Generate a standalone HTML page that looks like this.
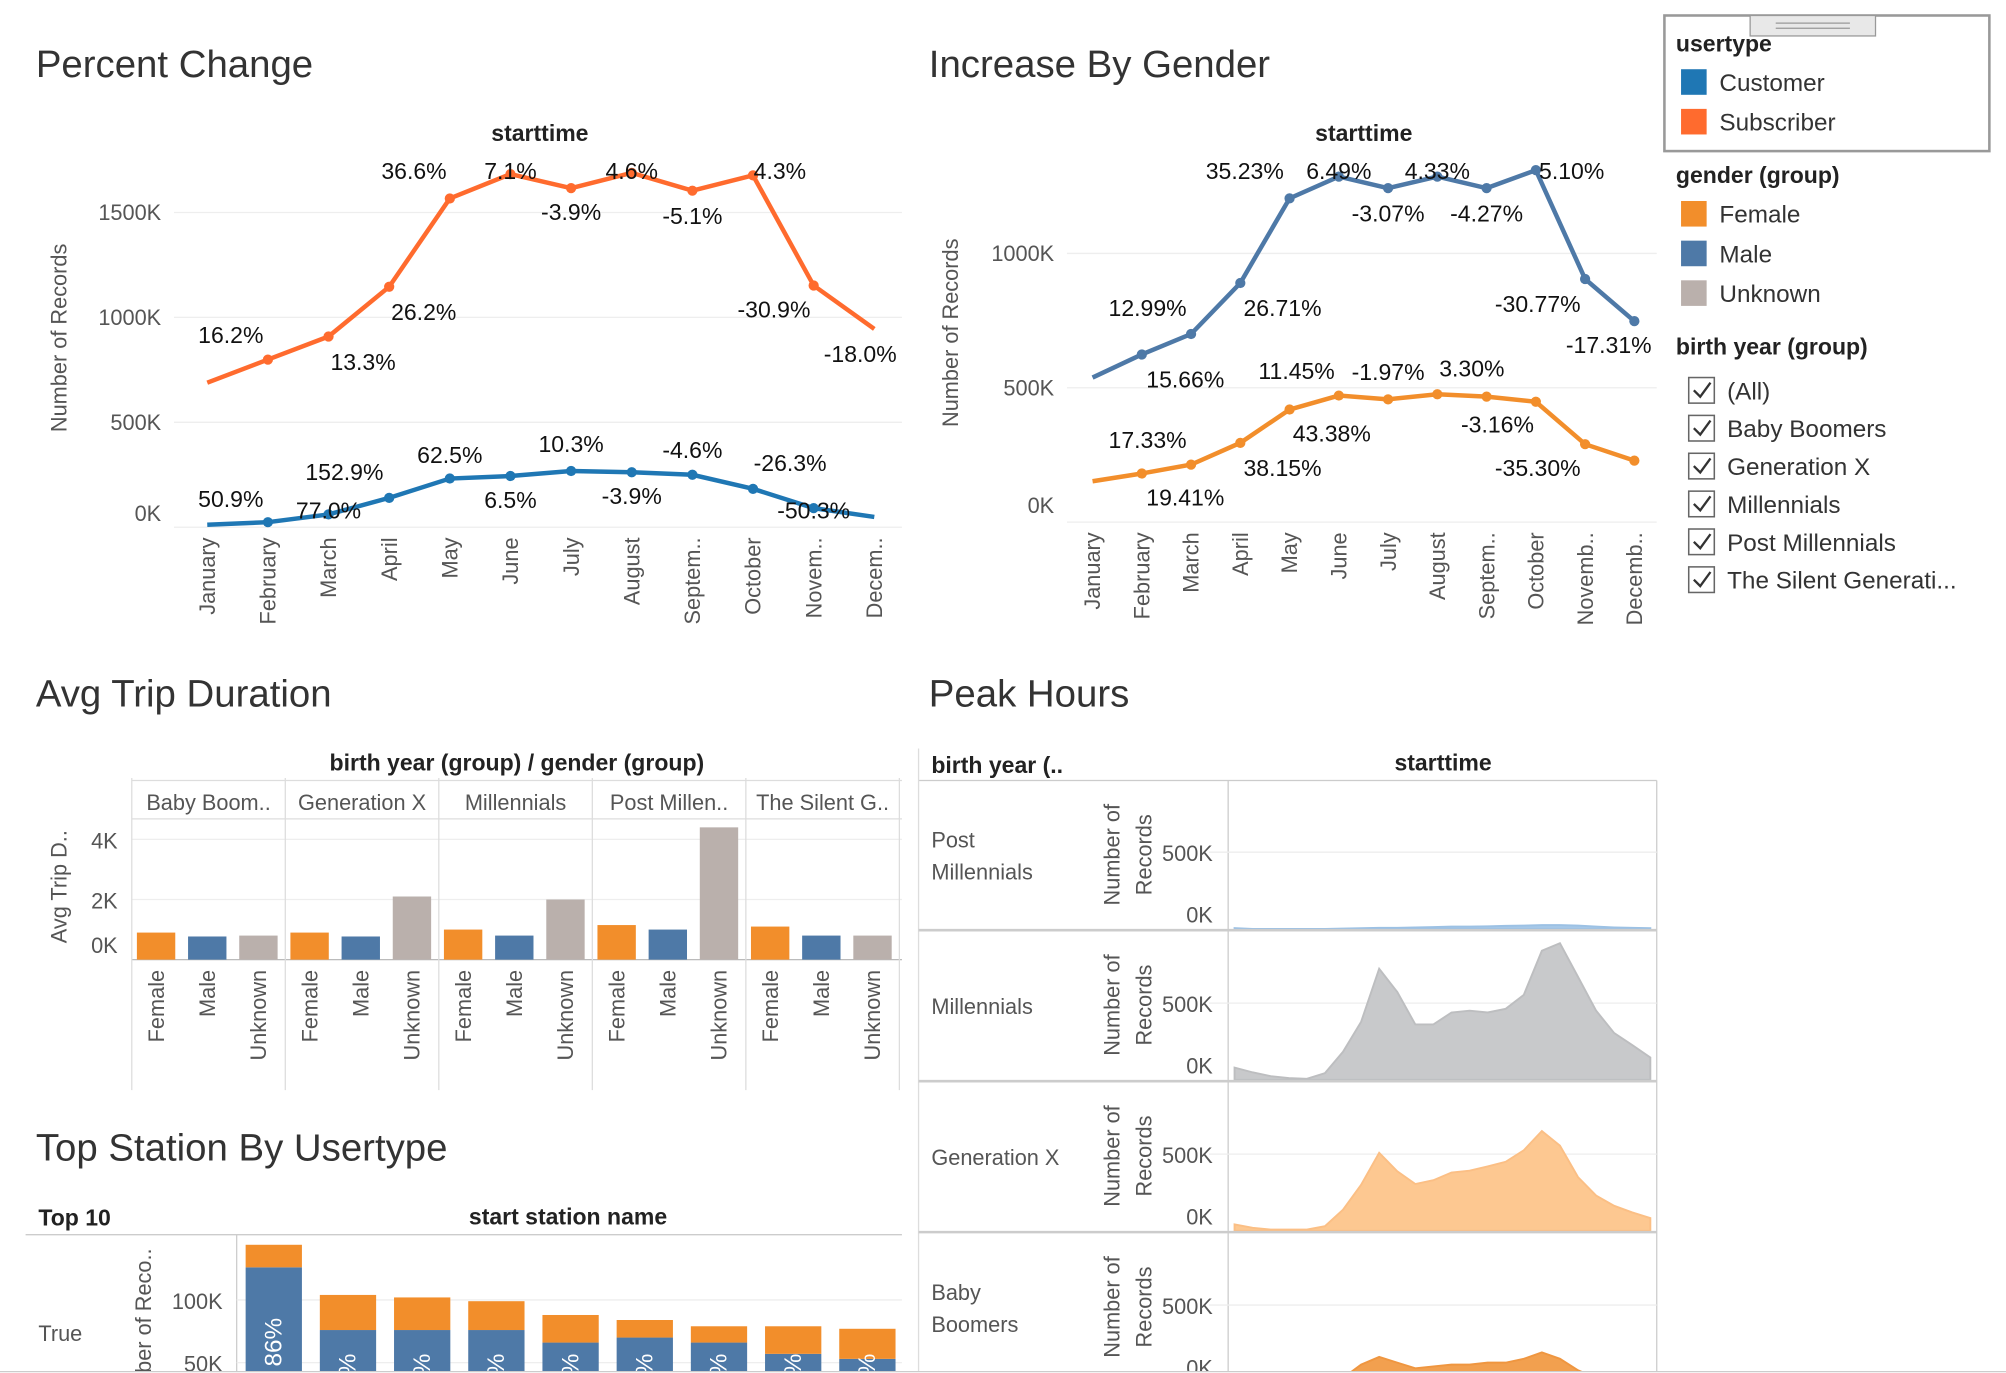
<!DOCTYPE html>
<html><head><meta charset="utf-8"><style>
html,body{margin:0;padding:0;background:#fff;}
svg{display:block;font-family:"Liberation Sans",sans-serif;}
.t{font-size:30px;fill:#333;}
.ax{font-size:17px;fill:#555;}
.hd{font-size:18px;fill:#222;font-weight:bold;}
.lb{font-size:18px;fill:#111;}
.lg{font-size:19px;fill:#333;}
</style></head><body>
<svg id="root" width="2006" height="1373" viewBox="0 0 1568 1073" xmlns="http://www.w3.org/2000/svg">
<rect x="0" y="0" width="1568" height="1073" fill="#fff"/>
<!-- titles -->
<text class="t" x="28" y="60">Percent Change</text>
<text class="t" x="726" y="60">Increase By Gender</text>
<text class="t" x="28" y="552">Avg Trip Duration</text>
<text class="t" x="726" y="552">Peak Hours</text>
<text class="t" x="28" y="907">Top Station By Usertype</text>

<text class="hd" x="422" y="110" text-anchor="middle">starttime</text>
<text class="hd" x="1066" y="110" text-anchor="middle">starttime</text>
<text class="ax" transform="translate(52,264) rotate(-90)" text-anchor="middle">Number of Records</text>
<text class="ax" transform="translate(749,260) rotate(-90)" text-anchor="middle">Number of Records</text>

<!-- legend -->
<g>
<rect x="1301" y="12" width="254" height="106" fill="#fff" stroke="#999" stroke-width="2"/>
<rect x="1368" y="12" width="98" height="16" fill="#e8e8e8" stroke="#999"/>
<line x1="1388" y1="18" x2="1446" y2="18" stroke="#999"/><line x1="1388" y1="22" x2="1446" y2="22" stroke="#999"/>
<text class="hd" x="1310" y="40">usertype</text>
<rect x="1314" y="54" width="20" height="20" fill="#1f77b4"/>
<text class="lg" x="1344" y="71">Customer</text>
<rect x="1314" y="85" width="20" height="20" fill="#ff6b2e"/>
<text class="lg" x="1344" y="102">Subscriber</text>
<text class="hd" x="1310" y="143">gender (group)</text>
<rect x="1314" y="157" width="20" height="20" fill="#f28e2b"/>
<text class="lg" x="1344" y="174">Female</text>
<rect x="1314" y="188" width="20" height="20" fill="#4e79a7"/>
<text class="lg" x="1344" y="205">Male</text>
<rect x="1314" y="219" width="20" height="20" fill="#bab0ac"/>
<text class="lg" x="1344" y="236">Unknown</text>
<text class="hd" x="1310" y="277">birth year (group)</text>
</g>
<g id="filters"></g>

<!-- avg trip static -->
<text class="hd" x="404" y="602" text-anchor="middle">birth year (group)  /  gender (group)</text>
<text class="ax" transform="translate(52,693) rotate(-90)" text-anchor="middle">Avg Trip D..</text>

<!-- peak hours static -->
<text class="hd" x="728" y="604">birth year (..</text>
<text class="hd" x="1128" y="602" text-anchor="middle">starttime</text>

<!-- top station static -->
<text class="hd" x="30" y="958">Top 10</text>
<text class="hd" x="444" y="957" text-anchor="middle">start station name</text>
<line x1="20" y1="965" x2="705" y2="965" stroke="#ccc"/>
<line x1="185" y1="965" x2="185" y2="1073" stroke="#ccc"/>
<text class="ax" x="30" y="1048" font-size="19">True</text>
<text class="ax" transform="translate(118,1073) rotate(-90)">ber of Reco..</text>

<g id="dyn"></g>
</svg>
<script>
// ---------- data ----------
const months = ["January","February","March","April","May","June","July","August","Septem..","October","Novem..","Decem.."];
const subscriberK = [689,799,909,1146,1567,1683,1616,1689,1604,1677,1152,945];
const customerK = [12,24,61,140,232,244,268,262,250,183,91,49];
const subscriberLabels = ["","16.2%","13.3%","26.2%","36.6%","7.1%","-3.9%","4.6%","-5.1%","4.3%","-30.9%","-18.0%"];
const customerLabels = ["","50.9%","77.0%","152.9%","62.5%","6.5%","10.3%","-3.9%","-4.6%","-26.3%","-50.3%",""];
const pctTicks = [0,500,1000,1500];

const genderMonths = ["January","February","March","April","May","June","July","August","Septem..","October","Novemb..","Decemb.."];
const maleK = [538,624,700,890,1205,1286,1243,1286,1243,1310,905,748];
const femaleK = [152,181,214,295,419,471,457,476,467,448,290,229];
const maleLabels = ["","15.66%","12.99%","26.71%","35.23%","6.49%","-3.07%","4.33%","-4.27%","5.10%","-30.77%","-17.31%"];
const femaleLabels = ["","19.41%","17.33%","38.15%","43.38%","11.45%","-1.97%","3.30%","","-3.16%","-35.30%",""];
const genderTicks = [0,500,1000];

const generations = ["Baby Boom..","Generation X","Millennials","Post Millen..","The Silent G.."];
const genders = ["Female","Male","Unknown"];
const avgTripK = [[0.9,0.77,0.8],[0.9,0.77,2.1],[1.0,0.8,2.0],[1.15,1.0,4.4],[1.1,0.8,0.8]];
const tripTicks = [0,2,4];

const stationCustomerK = [126,76,76,76,66,70,66,57,53];
const stationSubscriberK = [18,28,26,23,22,14,13,22,24];
const stationPctLabels = ["86%","%","%","%","%","%","%","%","%"];
const stationTicks = [50,100];

const peakRows = ["Post Millennials","Millennials","Generation X","Baby Boomers"];
const postMillK = [5,0,0,0,0,0,2,5,7,7,10,12,15,15,17,20,22,25,25,22,15,10,7,5];
const millK = [80,49,24,12,7,44,183,378,724,573,361,361,439,451,439,463,554,841,890,671,451,305,227,146];
const genXK = [42,20,8,8,8,30,138,300,508,388,305,330,380,392,420,450,525,650,555,350,230,163,120,83];
const boomerK = [5,5,5,5,5,5,25,112,162,125,88,100,112,112,125,125,150,192,150,75,25,12,8,5];
const filterItems = ["(All)","Baby Boomers","Generation X","Millennials","Post Millennials","The Silent Generati..."];

// ---------- helpers ----------
const NS="http://www.w3.org/2000/svg";
const dyn=document.getElementById('dyn');
function mk(tag,attrs,parent,txt){const e=document.createElementNS(NS,tag);for(const k in attrs)e.setAttribute(k,attrs[k]);if(txt!==undefined)e.textContent=txt;(parent||dyn).appendChild(e);return e;}

// ---------- percent change ----------
(function(){
  const x=i=>162+i*47.4, y=v=>412-v*0.164;
  pctTicks.forEach(t=>{
    const l=mk('line',{x1:136,x2:705,y1:y(t),y2:y(t),stroke:'#eee'});
    
    
    const tx=mk('text',{x:126,y:Math.min(y(t)+6,407),'text-anchor':'end',class:'ax','font-size':'18'},dyn,t+'K');
    
    
  });
  months.forEach((m,i)=>{
    const tx=mk('text',{transform:`translate(${x(i)+6},420) rotate(-90)`,'text-anchor':'end',class:'ax','font-size':'18'},dyn,m);
    
    
  });
  const sdx=[0,-29,27,27,-28,0,0,0,0,21,-31,-11], sdy=[0,-19,20,20,-21,-2,19,-1,20,-3,19,20];
  const cdx=[0,-29,0,-35,0,0,0,0,0,29,0,0], cdy=[0,-18,-3,-20,-18,19,-21,19,-19,-20,2,0];
  [[subscriberK,'#ff6b2e','subscriber',subscriberLabels,sdx,sdy],[customerK,'#1f77b4','customer',customerLabels,cdx,cdy]].forEach(([d,c,n,labs,dx,dy])=>{
    const p=mk('polyline',{points:d.map((v,i)=>x(i)+','+y(v)).join(' '),fill:'none',stroke:c,'stroke-width':3.5});
    
    
    d.forEach((v,i)=>{
      if(i>0&&i<11){const ci=mk('circle',{cx:x(i),cy:y(v),r:4,fill:c});
      
      }
      if(labs[i]){const t=mk('text',{x:x(i)+dx[i],y:y(v)+dy[i]+6,'text-anchor':'middle',class:'lb'},dyn,labs[i]);
      
      }
    });
  });
})();

// ---------- increase by gender ----------
(function(){
  const x=i=>854+i*38.5, y=v=>408-v*0.21;
  genderTicks.forEach(t=>{
    const l=mk('line',{x1:834,x2:1295,y1:y(t),y2:y(t),stroke:'#eee'});
    
    
    const tx=mk('text',{x:824,y:Math.min(y(t)+6,401),'text-anchor':'end',class:'ax','font-size':'18'},dyn,t+'K');
    
    
  });
  genderMonths.forEach((m,i)=>{
    const tx=mk('text',{transform:`translate(${x(i)+6},416) rotate(-90)`,'text-anchor':'end',class:'ax','font-size':'18'},dyn,m);
    
    
  });
  const mdx=[0,34,-34,33,-35,0,0,0,0,28,-37,-20], mdy=[0,20,-20,20,-21,-4,20,-4,20,1,20,19];
  const fdx=[0,34,-34,33,33,-33,0,27,0,-30,-37,0], fdy=[0,19,-19,20,19,-19,-21,-20,0,18,19,0];
  [[maleK,'#4e79a7','male',maleLabels,mdx,mdy],[femaleK,'#f28e2b','female',femaleLabels,fdx,fdy]].forEach(([d,c,n,labs,dx,dy])=>{
    const p=mk('polyline',{points:d.map((v,i)=>x(i)+','+y(v)).join(' '),fill:'none',stroke:c,'stroke-width':3.5});
    
    
    d.forEach((v,i)=>{
      if(i>0){const ci=mk('circle',{cx:x(i),cy:y(v),r:4,fill:c});
      
      }
      if(labs[i]){const t=mk('text',{x:x(i)+dx[i],y:y(v)+dy[i]+6,'text-anchor':'middle',class:'lb'},dyn,labs[i]);
      
      }
    });
  });
})();

// ---------- filters ----------
(function(){
  const g=document.getElementById('filters');
  filterItems.forEach((f,i)=>{
    const yy=305+i*29.6;
    const b=mk('rect',{x:1320,y:yy-10,width:20,height:20,fill:'#fff',stroke:'#666','stroke-width':1.2},g);
    
    
    mk('path',{d:`M${1324},${yy} l5,5 l8,-11`,fill:'none',stroke:'#333','stroke-width':1.8},g);
    const t=mk('text',{x:1350,y:yy+7,class:'lg'},g,f);
    
    
  });
})();

// ---------- avg trip duration ----------
(function(){
  const y=v=>750-v*23.5, px=g=>103+g*120, bx=(g,k)=>px(g)+4+k*40;
  tripTicks.forEach(t=>{
    const l=mk('line',{x1:103,x2:705,y1:y(t),y2:y(t),stroke:'#eee'});
    
    
    const tx=mk('text',{x:92,y:y(t)+(t===0?-5:7),'text-anchor':'end',class:'ax','font-size':'18'},dyn,t+'K');
    
    
  });
  mk('line',{x1:103,x2:705,y1:610,y2:610,stroke:'#ddd'});
  mk('line',{x1:103,x2:705,y1:640,y2:640,stroke:'#ddd'});
  mk('line',{x1:103,x2:705,y1:750,y2:750,stroke:'#bbb'});
  for(let g=0;g<=5;g++) mk('line',{x1:px(g),x2:px(g),y1:608,y2:852,stroke:'#ddd'});
  generations.forEach((gn,g)=>{
    const t=mk('text',{x:px(g)+60,y:633,'text-anchor':'middle',class:'ax','font-size':'18'},dyn,gn);
    
    
    genders.forEach((gd,k)=>{
      const v=avgTripK[g][k];
      const r=mk('rect',{x:bx(g,k),y:y(v),width:30,height:750-y(v),fill:['#f28e2b','#4e79a7','#bab0ac'][k]});
      
      
      const tx=mk('text',{transform:`translate(${bx(g,k)+21},758) rotate(-90)`,'text-anchor':'end',class:'ax','font-size':'18'},dyn,gd);
      
      
    });
  });
})();

// ---------- peak hours ----------
(function(){
  const rowTop=[610,727,845,963], base=[726,844,962,1080], data=[postMillK,millK,genXK,boomerK];
  const cols=['#a6c8e8','#c8c9cb','#fdc891','#f2a04f'], strokes=['#9cc1e4','#bdbec0','#fbbf85','#ef9640'];
  const x=i=>965+i*14.13;
  mk('line',{x1:718,x2:1295,y1:610,y2:610,stroke:'#ccc'});
  mk('line',{x1:718,x2:718,y1:585,y2:1073,stroke:'#ddd'});
  mk('line',{x1:960,x2:960,y1:610,y2:1073,stroke:'#ccc'});
  mk('line',{x1:1295,x2:1295,y1:610,y2:1073,stroke:'#ccc'});
  peakRows.forEach((r,ri)=>{
    const yv=v=>base[ri]-v*0.12;
    if(ri>0) mk('line',{x1:718,x2:1295,y1:rowTop[ri],y2:rowTop[ri],stroke:'#ccc','stroke-width':2});
    mk('line',{x1:945,x2:1295,y1:yv(500),y2:yv(500),stroke:'#eee'});
    const words=r==='Post Millennials'?['Post','Millennials']:r==='Baby Boomers'?['Baby','Boomers']:[r];
    const cy=(rowTop[ri]+base[ri])/2;
    words.forEach((w,wi)=>{
      const t=mk('text',{x:728,y:cy+7-(words.length-1)*12.5+wi*25,class:'ax','font-size':'19'},dyn,w);
      
      
    });
    const a=mk('text',{transform:`translate(875,${cy}) rotate(-90)`,'text-anchor':'middle',class:'ax','font-size':'18','fill':'#333'},dyn,'Number of');
    
    
    mk('text',{transform:`translate(900,${cy}) rotate(-90)`,'text-anchor':'middle',class:'ax','font-size':'18','fill':'#333'},dyn,'Records');
    const t5=mk('text',{x:948,y:yv(500)+7,'text-anchor':'end',class:'ax','font-size':'18'},dyn,'500K');
    
    
    const t0=mk('text',{x:948,y:base[ri]-5,'text-anchor':'end',class:'ax','font-size':'18'},dyn,'0K');
    
    
    const d=data[ri];
    const pts=d.map((v,i)=>x(i)+','+yv(v)).join(' ');
    const p=mk('polygon',{points:`${x(0)},${base[ri]} ${pts} ${x(d.length-1)},${base[ri]}`,fill:cols[ri],stroke:strokes[ri],'stroke-width':1.5});
    
    
  });
  mk('rect',{x:0,y:1073,width:1568,height:20,fill:'#fff'});
})();

// ---------- top station ----------
(function(){
  const y=v=>1114-v*0.98, x=i=>192+i*58;
  stationTicks.forEach(t=>{
    const l=mk('line',{x1:185,x2:705,y1:y(t),y2:y(t),stroke:'#eee'});
    
    
    const tx=mk('text',{x:174,y:y(t)+7,'text-anchor':'end',class:'ax','font-size':'18'},dyn,t+'K');
    
    
  });
  stationCustomerK.forEach((c,i)=>{
    const s=stationSubscriberK[i];
    const r1=mk('rect',{x:x(i),y:y(c),width:44,height:1114-y(c),fill:'#4e79a7'});
    
    
    const r2=mk('rect',{x:x(i),y:y(c+s),width:44,height:y(c)-y(c+s),fill:'#f28e2b'});
    
    
    const t=mk('text',{transform:`translate(${x(i)+28},${i===0?1030:1058}) rotate(-90)`,'text-anchor':'end',fill:'#fff','font-size':'19'},dyn,stationPctLabels[i]);
    
    
  });
  mk('rect',{x:0,y:1072,width:1568,height:20,fill:'#fff'});
  mk('line',{x1:0,x2:1568,y1:1072,y2:1072,stroke:'#ccc'});
})();
</script>
</body></html>
